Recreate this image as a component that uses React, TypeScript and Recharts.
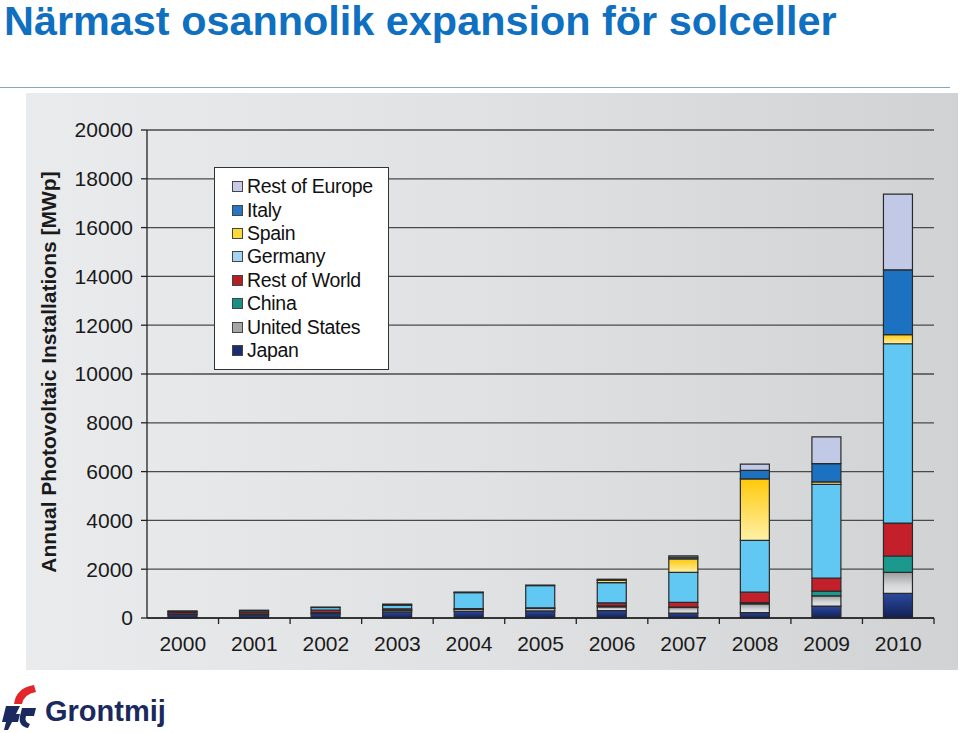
import { BarChart, Bar, XAxis, YAxis, CartesianGrid } from "recharts";

const years = ["2000", "2001", "2002", "2003", "2004", "2005", "2006", "2007", "2008", "2009", "2010"];
const japan = [140, 130, 180, 250, 270, 290, 300, 200, 220, 490, 1010];
const unitedStates = [20, 30, 40, 60, 80, 100, 160, 230, 360, 420, 860];
const china = [0, 0, 0, 10, 10, 10, 40, 20, 50, 190, 670];
const restOfWorld = [70, 80, 100, 60, 30, 20, 120, 190, 430, 540, 1350];
const germany = [40, 60, 110, 150, 650, 910, 830, 1230, 2120, 3840, 7350];
const spain = [0, 0, 0, 10, 10, 20, 90, 550, 2520, 100, 370];
const italy = [0, 0, 0, 0, 0, 0, 10, 70, 350, 750, 2660];
const restOfEurope = [20, 20, 20, 30, 10, 0, 40, 60, 260, 1090, 3100];
const yTicks = [0, 2000, 4000, 6000, 8000, 10000, 12000, 14000, 16000, 18000, 20000];

// stacking order, bottom to top
const SERIES = [
  { key: "japan", name: "Japan", fill: "url(#gJapan)", swatch: "#1c2d6e" },
  { key: "us", name: "United States", fill: "url(#gUS)", swatch: "#a4a6a8" },
  { key: "china", name: "China", fill: "#1b998c", swatch: "#1a8f86" },
  { key: "row", name: "Rest of World", fill: "#c3202b", swatch: "#b31f24" },
  { key: "germany", name: "Germany", fill: "#60c8f2", swatch: "#a6d3f0" },
  { key: "spain", name: "Spain", fill: "url(#gSpain)", swatch: "#fcd93a" },
  { key: "italy", name: "Italy", fill: "#1c72c1", swatch: "#2876bf" },
  { key: "roe", name: "Rest of Europe", fill: "#c2c9e7", swatch: "#c8cbe6" },
];

const data = years.map((y, i) => ({
  year: y,
  japan: japan[i],
  us: unitedStates[i],
  china: china[i],
  row: restOfWorld[i],
  germany: germany[i],
  spain: spain[i],
  italy: italy[i],
  roe: restOfEurope[i],
}));

const FONT = "'Liberation Sans', Arial, sans-serif";

// year label plus a small tick mark on the right edge of its column
function YearTick(props: any) {
  const { x, y, payload } = props;
  const half = payload && payload.offset ? payload.offset : 35.7;
  return (
    <g>
      <line x1={x + half} x2={x + half} y1={y} y2={y + 6} stroke="#222" strokeWidth={1.3} />
      <text x={x} y={y + 18} dy="0.71em" textAnchor="middle" fill="#1a1a1a" fontSize={21} fontFamily={FONT}>
        {payload.value}
      </text>
    </g>
  );
}

function LegendBox() {
  const items = [...SERIES].reverse();
  return (
    <div
      style={{
        position: "absolute",
        left: 214,
        top: 167,
        width: 175,
        height: 203,
        background: "#fff",
        border: "1px solid #333",
        boxSizing: "border-box",
        paddingTop: 7,
        paddingLeft: 17,
        fontFamily: FONT,
      }}
    >
      {items.map((s) => (
        <div key={s.key} style={{ display: "flex", alignItems: "center", height: 23.4 }}>
          <span
            style={{
              width: 9,
              height: 9,
              background: s.swatch,
              border: "1px solid #444",
              marginRight: 4,
              display: "inline-block",
            }}
          />
          <span style={{ fontSize: 19.5, color: "#111", letterSpacing: -0.3 }}>{s.name}</span>
        </div>
      ))}
    </div>
  );
}

function Logo() {
  return (
    <svg width={200} height={63} style={{ position: "absolute", left: 0, top: 670 }}>
      <path d="M14 34 Q16 18 34 15 L36 22 Q24 24 22 34 Z" fill="#e2262c" />
      <path d="M6 36 L20 36 L16 44 L20 44 L18 52 L12 52 L8 60 L4 60 L6 52 L2 52 Z" fill="#1a2a5e" />
      <path d="M22 38 L36 38 L34 46 L26 46 Q24 52 30 54 L28 58 Q18 56 20 46 Z" fill="#1a2a5e" />
      <text x={45} y={51} fontFamily={FONT} fontWeight={700} fontSize={29} fill="#1a2a5e">
        Grontmij
      </text>
    </svg>
  );
}

export default function App() {
  return (
    <div
      style={{
        position: "absolute",
        left: 0,
        top: 0,
        width: 960,
        height: 733,
        background: "#fff",
        overflow: "hidden",
      }}
    >
      <div
        style={{
          position: "absolute",
          left: 4,
          top: -2,
          lineHeight: "46px",
          fontFamily: FONT,
          fontWeight: 700,
          fontSize: 41.4,
          color: "#0f6fc0",
          whiteSpace: "nowrap",
        }}
      >
        Närmast osannolik expansion för solceller
      </div>
      <div style={{ position: "absolute", left: 0, top: 87, width: 950, height: 1, background: "#86a7c4" }} />
      <div
        style={{
          position: "absolute",
          left: 26,
          top: 93,
          width: 932,
          height: 577,
          background: "linear-gradient(90deg, #e9ebed 0%, #dfe1e3 50%, #d0d2d4 100%)",
        }}
      >
        <BarChart
          width={932}
          height={577}
          data={data}
          margin={{ top: 37, right: 24, left: 0, bottom: 22 }}
          barSize={29}
        >
          <defs>
            <linearGradient id="gJapan" x1="0" y1="0" x2="0" y2="1">
              <stop offset="0%" stopColor="#2b4a9e" />
              <stop offset="100%" stopColor="#131f55" />
            </linearGradient>
            <linearGradient id="gUS" x1="0" y1="0" x2="0" y2="1">
              <stop offset="0%" stopColor="#9a9c9e" />
              <stop offset="60%" stopColor="#d4d6d8" />
              <stop offset="100%" stopColor="#e4e6e8" />
            </linearGradient>
            <linearGradient id="gSpain" x1="0" y1="0" x2="0" y2="1">
              <stop offset="0%" stopColor="#ffc90a" />
              <stop offset="100%" stopColor="#fff0a8" />
            </linearGradient>
          </defs>
          <CartesianGrid vertical={false} stroke="#4a4a4a" strokeWidth={1.3} />
          <XAxis
            dataKey="year"
            height={30}
            tick={YearTick}
            tickLine={false}
            tickSize={0}
            tickMargin={0}
            axisLine={{ stroke: "#222", strokeWidth: 1.3 }}
            interval={0}
          />
          <YAxis
            width={121}
            domain={[0, 20000]}
            ticks={yTicks}
            interval={0}
            tick={{ fill: "#1a1a1a", fontSize: 21, fontFamily: FONT }}
            tickLine={{ stroke: "#222", strokeWidth: 1.3 }}
            tickSize={6}
            tickMargin={8}
            axisLine={{ stroke: "#222", strokeWidth: 1.3 }}
          />
          <YAxis
            yAxisId="r"
            orientation="right"
            width={0}
            domain={[0, 20000]}
            tick={false}
            tickLine={false}
            axisLine={{ stroke: "#777", strokeWidth: 1.3 }}
          />
          {SERIES.map((s) => (
            <Bar
              key={s.key}
              dataKey={s.key}
              name={s.name}
              stackId="a"
              fill={s.fill}
              stroke="#2a2a2a"
              strokeWidth={1.2}
              isAnimationActive={false}
            />
          ))}
        </BarChart>
      </div>
      <LegendBox />
      <svg width={60} height={733} style={{ position: "absolute", left: 20, top: 0 }}>
        <text
          x={0}
          y={0}
          transform="translate(28 372) rotate(-90)"
          textAnchor="middle"
          dominantBaseline="central"
          fontFamily={FONT}
          fontWeight={700}
          fontSize={21}
          fill="#1a1a1a"
        >
          Annual Photovoltaic Installations [MWp]
        </text>
      </svg>
      <Logo />
    </div>
  );
}
